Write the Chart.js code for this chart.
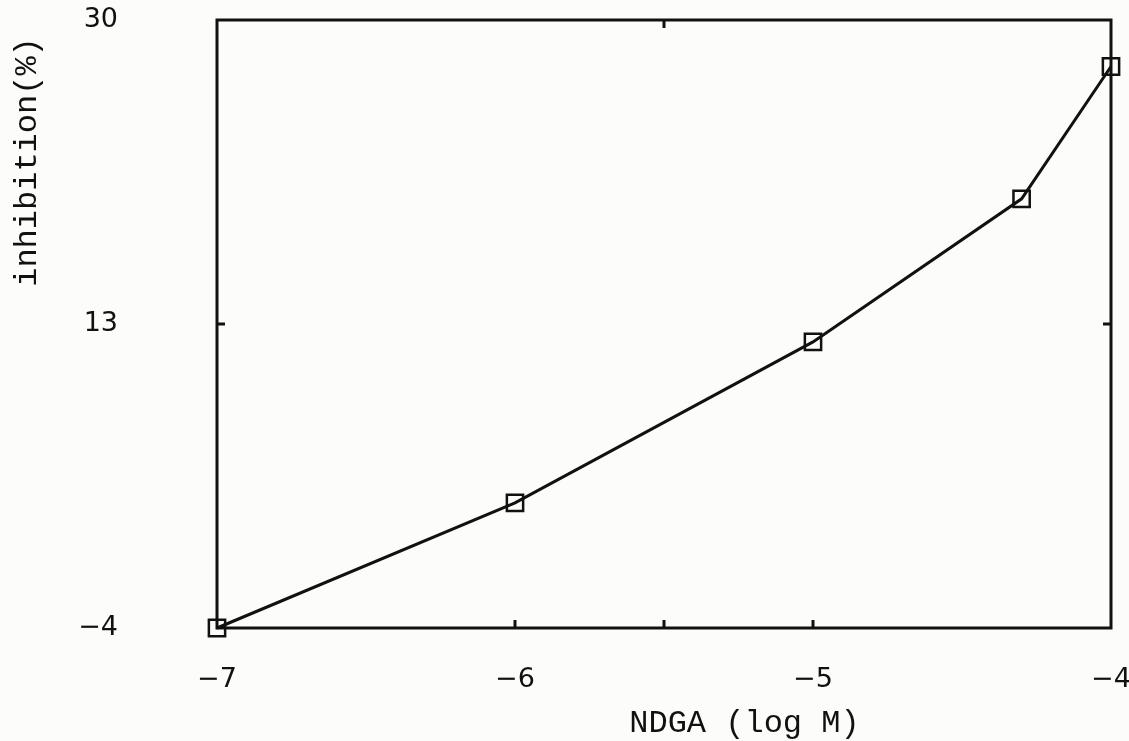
<!DOCTYPE html>
<html>
<head>
<meta charset="utf-8">
<script src="https://cdn.jsdelivr.net/npm/chart.js@4/dist/chart.umd.min.js"></script>
<style>
  html, body { margin: 0; padding: 0; background: #fcfcfa; }
  #wrap { width: 1129px; height: 741px; }
</style>
</head>
<body>
<div id="wrap"><canvas id="c" width="1129" height="741"></canvas></div>
<script>
// Data
const logConc = [-7, -6, -5, -4.3, -4];
const inhibition = [-4, 3, 12, 20, 27.4];
const xTickLabels = [-7, -6, -5, -4];
const yTickLabels = [-4, 13, 30];
const xInnerTicksBottom = [-6, -5.5, -5];
const xInnerTicksTop = [-5.5];
const yInnerTicks = [13];
const xTitle = 'NDGA (log M)';
const yTitle = 'inhibition(%)';

const points = logConc.map((x, i) => ({ x: x, y: inhibition[i] }));

const frame = {
  id: 'frame',
  beforeDraw(chart) {
    const ctx = chart.ctx;
    ctx.save();
    ctx.fillStyle = '#fcfcfa';
    ctx.fillRect(0, 0, chart.width, chart.height);
    ctx.restore();
  },
  beforeDatasetsDraw(chart) {
    const ctx = chart.ctx;
    const a = chart.chartArea;
    const xs = chart.scales.x, ys = chart.scales.y;
    ctx.save();
    ctx.strokeStyle = '#111';
    ctx.lineWidth = 3;
    ctx.strokeRect(a.left, a.top, a.right - a.left, a.bottom - a.top);
    const L = 8;
    xInnerTicksBottom.forEach(v => {
      const px = xs.getPixelForValue(v);
      ctx.beginPath(); ctx.moveTo(px, a.bottom); ctx.lineTo(px, a.bottom - L); ctx.stroke();
    });
    xInnerTicksTop.forEach(v => {
      const px = xs.getPixelForValue(v);
      ctx.beginPath(); ctx.moveTo(px, a.top); ctx.lineTo(px, a.top + L); ctx.stroke();
    });
    yInnerTicks.forEach(v => {
      const py = ys.getPixelForValue(v);
      ctx.beginPath(); ctx.moveTo(a.left, py); ctx.lineTo(a.left + L, py); ctx.stroke();
      ctx.beginPath(); ctx.moveTo(a.right, py); ctx.lineTo(a.right - L, py); ctx.stroke();
    });
    // axis titles
    ctx.fillStyle = '#111';
    ctx.font = '32px "Liberation Mono"';
    ctx.textBaseline = 'middle';
    ctx.textAlign = 'center';
    ctx.fillText(xTitle, a.left + (a.right - a.left) * 0.59, 724);
    ctx.translate(28, a.top + 142);
    ctx.rotate(-Math.PI / 2);
    ctx.fillText(yTitle, 0, 0);
    ctx.restore();
  }
};

const zeroPad = s => { s.paddingLeft = 0; s.paddingRight = 0; s.paddingTop = 0; s.paddingBottom = 0; };

new Chart(document.getElementById('c'), {
  type: 'scatter',
  data: {
    datasets: [{
      data: points,
      showLine: true,
      borderColor: '#111',
      borderWidth: 3,
      pointStyle: 'rect',
      pointRadius: 11.5,
      pointBorderWidth: 2.5,
      pointBackgroundColor: 'rgba(0,0,0,0)',
      pointBorderColor: '#111',
      clip: false,
      tension: 0
    }]
  },
  plugins: [frame],
  options: {
    responsive: false,
    animation: false,
    devicePixelRatio: 1,
    layout: { autoPadding: false, padding: { left: 0, right: 18, top: 20, bottom: 0 } },
    plugins: { legend: { display: false }, tooltip: { enabled: false } },
    scales: {
      x: {
        type: 'linear',
        min: -7, max: -4,
        afterBuildTicks(s) { s.ticks = xTickLabels.map(v => ({ value: v })); },
        afterFit(s) { s.height = 113; zeroPad(s); },
        grid: { display: false, drawTicks: false },
        border: { display: false },
        ticks: {
          color: '#111',
          padding: 36,
          font: { family: 'DejaVu Sans', size: 27 },
          callback: v => String(v).replace('-', '\u2212')
        },
        title: { display: false }
      },
      y: {
        type: 'linear',
        min: -4, max: 30,
        afterBuildTicks(s) { s.ticks = yTickLabels.map(v => ({ value: v })); },
        afterFit(s) { s.width = 217; zeroPad(s); },
        grid: { display: false, drawTicks: false },
        border: { display: false },
        ticks: {
          color: '#111',
          padding: 99,
          font: { family: 'DejaVu Sans', size: 27 },
          callback: v => String(v).replace('-', '\u2212')
        },
        title: { display: false }
      }
    }
  }
});
</script>
</body>
</html>
